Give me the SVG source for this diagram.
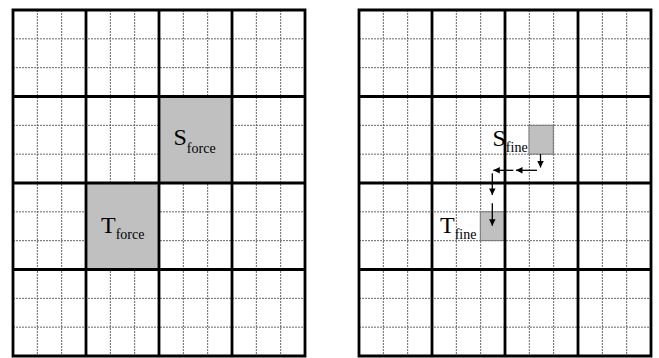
<svg xmlns="http://www.w3.org/2000/svg" width="659" height="358" viewBox="0 0 659 358">
<style>
.fine{stroke:#666;stroke-width:1;stroke-dasharray:2,1;fill:none}
.thick{stroke:#000;stroke-width:2.8;fill:none}
.box{fill:#c0c0c0;stroke:#000;stroke-width:1}
.sbox{fill:#c0c0c0;stroke:#777;stroke-width:1}
.lbl{font-family:"Liberation Serif","Times New Roman",serif;fill:#000}
.arr{stroke:#000;stroke-width:1.3;fill:none;marker-end:url(#ah)}
</style>
<defs>
<marker id="ah" viewBox="0 0 10 10" refX="10" refY="5" markerUnits="userSpaceOnUse" markerWidth="7" markerHeight="6.5" orient="auto">
<path d="M0,0 L10,5 L0,10 z" fill="#000"/>
</marker>
<g id="finegrid">
<path class="fine" d="M24.33,0V346M48.67,0V346M97.33,0V346M121.67,0V346M170.33,0V346M194.67,0V346M243.33,0V346M267.67,0V346M0,28.83H292M0,57.67H292M0,115.33H292M0,144.17H292M0,201.83H292M0,230.67H292M0,288.33H292M0,317.17H292"/>
</g>
<g id="thickgrid">
<path class="thick" d="M0,0H292V346H0Z M73,0V346M146,0V346M219,0V346M0,86.5H292M0,173H292M0,259.5H292"/>
</g>
</defs>
<g id="grid-left">
<use href="#finegrid" x="13" y="10"/>
</g>
<g id="grid-right">
<use href="#finegrid" x="359" y="10"/>
</g>
<g id="S_force">
<rect class="box" x="159" y="96.5" width="73" height="86.5"/>
<text class="lbl" x="173.5" y="145" font-size="24">S<tspan font-size="14" dy="7.7">force</tspan></text>
</g>
<g id="T_force">
<rect class="box" x="86" y="183" width="73" height="86.5"/>
<text class="lbl" x="101" y="232.7" font-size="24">T<tspan font-size="14" dy="6.6">force</tspan></text>
</g>
<g id="S_fine">
<rect class="sbox" x="529" y="125.3" width="24.3" height="28.8"/>
<text class="lbl" x="492.5" y="146" font-size="24">S<tspan font-size="14" dy="5.7">fine</tspan></text>
</g>
<g id="T_fine">
<rect class="sbox" x="480.3" y="211.8" width="24.3" height="28.8"/>
<text class="lbl" x="440" y="232.7" font-size="24">T<tspan font-size="14" dy="6.6">fine</tspan></text>
</g>
<use href="#thickgrid" x="13" y="10"/>
<use href="#thickgrid" x="359" y="10"/>
<g id="connectors">
<path class="arr" d="M540.5,154V167.5"/>
<path class="arr" d="M537,170.3H516"/>
<path class="arr" d="M513.3,170.3H493.3"/>
<path class="arr" d="M492.3,173.3V195"/>
<path class="arr" d="M492.3,203.3V225.7"/>
</g>
</svg>
